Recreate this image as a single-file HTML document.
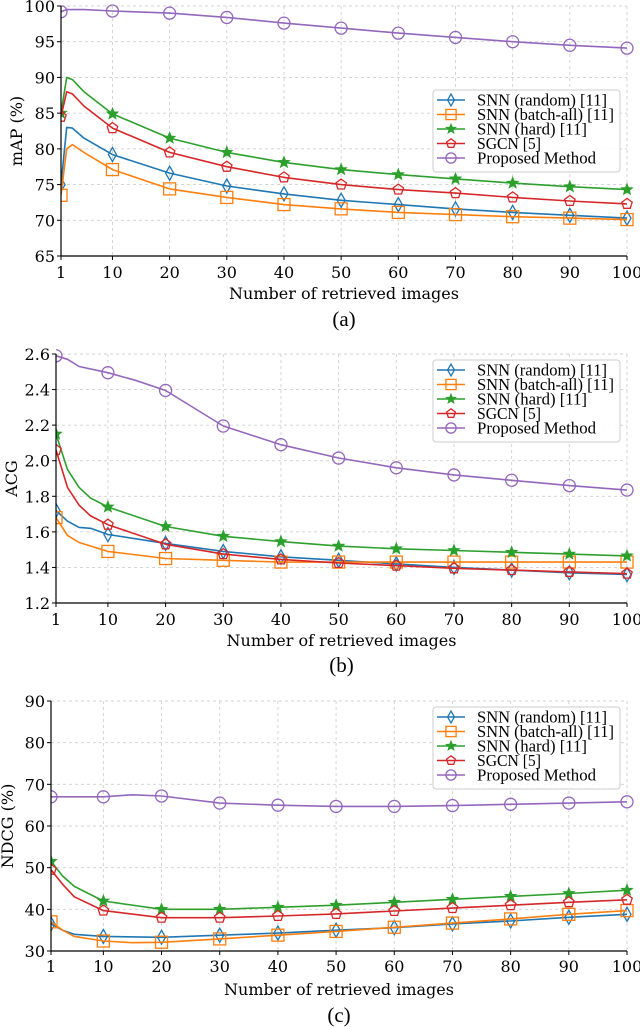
<!DOCTYPE html>
<html><head><meta charset="utf-8">
<style>
html,body{margin:0;padding:0;background:#fff;}
svg{display:block;}
text{font-family:"DejaVu Serif","Liberation Serif",serif;fill:#000;}
.lg{font-family:"Liberation Serif","DejaVu Serif",serif;}
</style></head>
<body>
<svg id="fig" width="640" height="1027" viewBox="0 0 640 1027" xmlns="http://www.w3.org/2000/svg"></svg>
<script>
// ---------- data ----------
const seriesNames = ["SNN (random) [11]","SNN (batch-all) [11]","SNN (hard) [11]","SGCN [5]","Proposed Method"];
const xTicks = [1,10,20,30,40,50,60,70,80,90,100];

// (a) mAP
const aX_random = [1,2,3,5,10,20,30,40,50,60,70,80,90,100];
const aY_random = [75,83,82.9,81.5,79.2,76.6,74.8,73.7,72.8,72.2,71.6,71.1,70.7,70.3];
const aX_batch = [1,2,3,5,10,20,30,40,50,60,70,80,90,100];
const aY_batch = [73.5,80,80.6,79.5,77.1,74.4,73.2,72.2,71.6,71.1,70.8,70.5,70.3,70.1];
const aX_hard = [1,2,3,5,10,20,30,40,50,60,70,80,90,100];
const aY_hard = [85,90,89.7,88,84.9,81.5,79.5,78.1,77.1,76.4,75.8,75.2,74.7,74.3];
const aX_sgcn = [1,2,3,5,10,20,30,40,50,60,70,80,90,100];
const aY_sgcn = [84.5,88,87.7,86,82.9,79.5,77.5,76.0,75.0,74.3,73.8,73.2,72.7,72.3];
const aX_prop = [1,2,5,10,20,30,40,50,60,70,80,90,100];
const aY_prop = [99.2,99.5,99.5,99.3,99.0,98.4,97.6,96.9,96.2,95.6,95.0,94.5,94.1];
const aYTicks = [65,70,75,80,85,90,95,100];

// (b) ACG
const bX_random = [1,3,5,7,10,20,30,40,50,60,70,80,90,100];
const bY_random = [1.72,1.66,1.625,1.62,1.585,1.535,1.49,1.46,1.44,1.42,1.40,1.385,1.37,1.36];
const bX_batch = [1,3,5,10,20,30,40,50,60,70,80,90,100];
const bY_batch = [1.68,1.58,1.54,1.49,1.45,1.44,1.43,1.43,1.43,1.43,1.43,1.43,1.43];
const bX_hard = [1,3,5,7,10,20,30,40,50,60,70,80,90,100];
const bY_hard = [2.15,1.95,1.85,1.79,1.74,1.63,1.575,1.545,1.52,1.505,1.495,1.485,1.475,1.465];
const bX_sgcn = [1,3,5,7,10,20,30,40,50,60,70,80,90,100];
const bY_sgcn = [2.06,1.85,1.75,1.69,1.64,1.53,1.475,1.445,1.425,1.41,1.395,1.385,1.375,1.365];
const bX_prop = [1,3,5,10,15,20,30,40,50,60,70,80,90,100];
const bY_prop = [2.59,2.57,2.53,2.495,2.45,2.395,2.195,2.09,2.015,1.96,1.92,1.89,1.86,1.835];
const bYTicks = [1.2,1.4,1.6,1.8,2.0,2.2,2.4,2.6];
const bYTickLabels = ["1.2","1.4","1.6","1.8","2.0","2.2","2.4","2.6"];

// (c) NDCG
const cX_random = [1,3,5,10,20,30,40,50,60,70,80,90,100];
const cY_random = [36.5,35,34,33.5,33.3,33.8,34.3,35,35.6,36.5,37.2,38.1,38.8];
const cX_batch = [1,3,5,10,15,20,30,40,50,60,70,80,90,100];
const cY_batch = [37,35,33.5,32.4,32,32.1,32.9,33.8,34.7,35.7,36.7,37.7,38.8,39.7];
const cX_hard = [1,3,5,10,20,30,40,50,60,70,80,90,100];
const cY_hard = [51.5,48,45.5,42,40,40,40.5,41,41.7,42.4,43.1,43.8,44.6];
const cX_sgcn = [1,3,5,10,20,30,40,50,60,70,80,90,100];
const cY_sgcn = [49.5,46,43,39.7,38,38,38.4,38.9,39.6,40.3,41,41.7,42.3];
const cX_prop = [1,10,15,20,30,40,50,60,70,80,90,100];
const cY_prop = [67,67,67.5,67.2,65.5,65,64.7,64.7,64.9,65.2,65.5,65.8];
const cYTicks = [30,40,50,60,70,80,90];

// ---------- drawing ----------
const NS="http://www.w3.org/2000/svg";
const svg=document.getElementById('fig');
const colors=["#1f77b4","#ff7f0e","#2ca02c","#d62728","#9467bd"];
const markerKinds=["thin_diamond","square","star","pentagon","circle"];
const legendWidths=[130,137,110,64,119];
function mk(tag,attrs,parent){const e=document.createElementNS(NS,tag);for(const k in attrs)e.setAttribute(k,attrs[k]);(parent||svg).appendChild(e);return e;}
const defs=mk('defs',{});

function marker(kind,cx,cy,color,g,sc){
  sc=sc||1;let e;
  if(kind==="circle"){e=mk('circle',{cx:cx,cy:cy,r:6*sc,fill:'none',stroke:color,'stroke-width':1.3},g);}
  else if(kind==="square"){const s=6*sc;e=mk('rect',{x:cx-s,y:cy-s,width:2*s,height:2*s,fill:'none',stroke:color,'stroke-width':1.3},g);}
  else if(kind==="thin_diamond"){const w=4*sc,h=7*sc;e=mk('polygon',{points:`${cx},${cy-h} ${cx+w},${cy} ${cx},${cy+h} ${cx-w},${cy}`,fill:'none',stroke:color,'stroke-width':1.3},g);}
  else if(kind==="pentagon"){let p=[];for(let i=0;i<5;i++){const a=-Math.PI/2+i*2*Math.PI/5;p.push((cx+5.5*sc*Math.cos(a)).toFixed(1)+","+(cy+5.5*sc*Math.sin(a)).toFixed(1));}e=mk('polygon',{points:p.join(' '),fill:'none',stroke:color,'stroke-width':1.3},g);}
  else if(kind==="star"){let p=[];for(let i=0;i<10;i++){const r=(i%2?2.6:6)*sc;const a=-Math.PI/2+i*Math.PI/5;p.push((cx+r*Math.cos(a)).toFixed(1)+","+(cy+r*Math.sin(a)).toFixed(1));}e=mk('polygon',{points:p.join(' '),fill:color,stroke:color,'stroke-width':0.8},g);}
  
  
  return e;
}

function drawChart(cfg){
  const {id,x0,x1,y0,y1,ymin,ymax,yTicks,yTickLabels,ylabel,xlabelY,captionY,caption,tickBase,series,legendTop,legendRows}=cfg;
  const g=mk('g',{});
  
  
  const cp0=mk('clipPath',{id:'clip-'+id},defs);
  mk('rect',{x:x0,y:y1-8,width:x1-x0+8,height:y0-y1+8},cp0);
  const sx=v=>x0+(v-1)/(100-1)*(x1-x0);
  const sy=v=>y0-(v-ymin)/(ymax-ymin)*(y0-y1);
  const grid=mk('g',{},g);
  
  
  xTicks.forEach(t=>{mk('line',{x1:sx(t),x2:sx(t),y1:y1,y2:y0,stroke:'#d0d0d0','stroke-width':0.9,'stroke-dasharray':'3,3'},grid);});
  yTicks.forEach(t=>{mk('line',{x1:x0,x2:x1,y1:sy(t),y2:sy(t),stroke:'#d0d0d0','stroke-width':0.9,'stroke-dasharray':'3,3'},grid);});
  const plot=mk('g',{'clip-path':`url(#clip-${id})`},g);
  
  
  series.forEach((s,i)=>{
    const sg=mk('g',{},plot);
    
    
    const pts=s.x.map((xv,k)=>sx(xv).toFixed(1)+','+sy(s.y[k]).toFixed(1)).join(' ');
    const pl=mk('polyline',{points:pts,fill:'none',stroke:colors[i],'stroke-width':1.6,'stroke-linejoin':'round'},sg);
    
    
    s.x.forEach((xv,k)=>{ if(xTicks.includes(xv)) marker(markerKinds[i],sx(xv),sy(s.y[k]),colors[i],sg,1); });
  });
  const ax=mk('path',{d:`M${x0},${y1} L${x0},${y0} L${x1},${y0}`,fill:'none',stroke:'#000','stroke-width':1.2},g);
  
  
  xTicks.forEach(t=>{
    mk('line',{x1:sx(t),x2:sx(t),y1:y0,y2:y0+4,stroke:'#000','stroke-width':1},g);
    const tx=mk('text',{x:sx(t),y:tickBase,'font-size':16,'text-anchor':'middle'},g);
    tx.textContent=t;
    
    
  });
  yTicks.forEach((t,k)=>{
    mk('line',{x1:x0-4,x2:x0,y1:sy(t),y2:sy(t),stroke:'#000','stroke-width':1},g);
    const tx=mk('text',{x:x0-6,y:sy(t)+6,'font-size':16,'text-anchor':'end'},g);
    tx.textContent=yTickLabels?yTickLabels[k]:t;
    
    
  });
  const yl=mk('text',{x:0,y:0,'font-size':16,'text-anchor':'middle',transform:`translate(${cfg.ylabelX},${(y0+y1)/2}) rotate(-90)`},g);
  yl.textContent=ylabel;
  
  
  const xl=mk('text',{x:(x0+x1)/2,y:xlabelY,'font-size':16,'text-anchor':'middle'},g);
  xl.textContent="Number of retrieved images";
  
  
  const cp=mk('text',{x:(x0+x1)/2,y:captionY,'font-size':21,'text-anchor':'middle',class:'lg'},g);
  cp.textContent=caption;
  
  
  const lg=mk('g',{},g);
  
  
  mk('rect',{x:433,y:legendTop,width:187,height:82,rx:3,fill:'#fff','fill-opacity':0.85,stroke:'#cccccc','stroke-width':1},lg);
  seriesNames.forEach((n,i)=>{
    const ry=legendRows[i];
    const eg=mk('g',{},lg);
    
    
    mk('line',{x1:437,x2:465,y1:ry,y2:ry,stroke:colors[i],'stroke-width':1.6},eg);
    marker(markerKinds[i],451,ry,colors[i],eg,0.85);
    const t=mk('text',{x:477,y:ry+5.5,'font-size':16.5,class:'lg',textLength:legendWidths[i],lengthAdjust:'spacingAndGlyphs'},eg);
    t.textContent=n;
  });
}

drawChart({id:'chart-a-map',x0:61,x1:627,y0:256,y1:6,ymin:65,ymax:100,yTicks:aYTicks,ylabel:'mAP (%)',ylabelX:22,tickBase:278,xlabelY:299,captionY:326,caption:'(a)',
  series:[{x:aX_random,y:aY_random},{x:aX_batch,y:aY_batch},{x:aX_hard,y:aY_hard},{x:aX_sgcn,y:aY_sgcn},{x:aX_prop,y:aY_prop}],
  legendTop:90,legendRows:[100,114.5,129,143.5,158]});
drawChart({id:'chart-b-acg',x0:56,x1:627,y0:603,y1:354,ymin:1.2,ymax:2.6,yTicks:bYTicks,yTickLabels:bYTickLabels,ylabel:'ACG',ylabelX:17,tickBase:625,xlabelY:646,captionY:672,caption:'(b)',
  series:[{x:bX_random,y:bY_random},{x:bX_batch,y:bY_batch},{x:bX_hard,y:bY_hard},{x:bX_sgcn,y:bY_sgcn},{x:bX_prop,y:bY_prop}],
  legendTop:360,legendRows:[370,384.5,399,413.5,428]});
drawChart({id:'chart-c-ndcg',x0:51,x1:627,y0:951,y1:701,ymin:30,ymax:90,yTicks:cYTicks,ylabel:'NDCG (%)',ylabelX:13,tickBase:972,xlabelY:995,captionY:1022,caption:'(c)',
  series:[{x:cX_random,y:cY_random},{x:cX_batch,y:cY_batch},{x:cX_hard,y:cY_hard},{x:cX_sgcn,y:cY_sgcn},{x:cX_prop,y:cY_prop}],
  legendTop:707,legendRows:[717,731.5,746,760.5,775]});
</script>
</body></html>
